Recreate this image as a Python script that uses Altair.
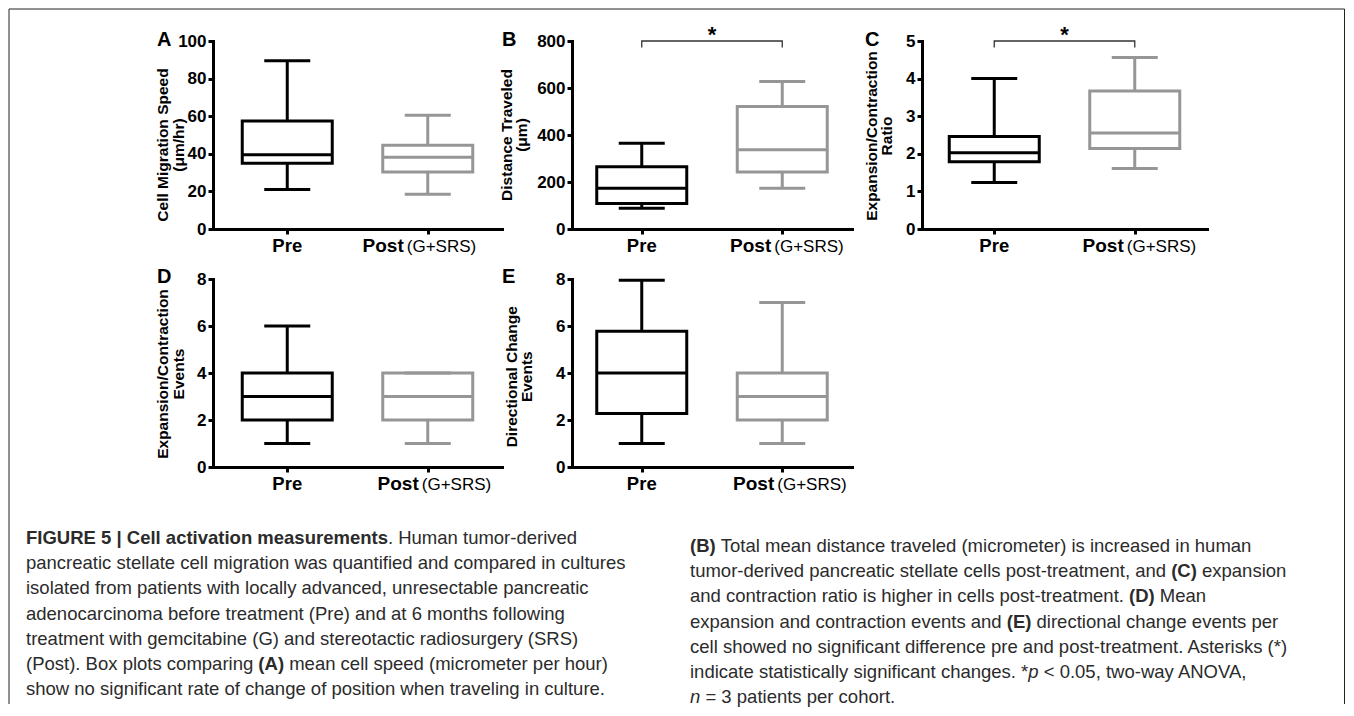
import altair as alt
import pandas as pd

# ---------------- data (min, q1, median, q3, max) ----------------
GROUPS = ["Pre", "Post"]

speed_pre = [21.0, 35.0, 39.5, 57.5, 89.5]
speed_post = [18.5, 30.3, 38.2, 44.5, 60.5]
distance_pre = [88, 109, 173, 265, 365]
distance_post = [173, 243, 337, 521, 628]
ratio_pre = [1.24, 1.79, 2.03, 2.46, 4.00]
ratio_post = [1.61, 2.14, 2.55, 3.67, 4.56]
ecevents_pre = [1, 2, 3, 4, 6]
ecevents_post = [1, 2, 3, 4, 4]
direvents_pre = [1, 2.28, 4, 5.78, 7.95]
direvents_post = [1, 2, 3, 4, 7]

PANEL_LETTERS = ["A", "B", "C", "D", "E"]
Y_TITLES = [
    ["Cell Migration Speed", "(\u03bcm/hr)"],
    ["Distance Traveled", "(\u03bcm)"],
    ["Expansion/Contraction", "Ratio"],
    ["Expansion/Contraction", "Events"],
    ["Directional Change", "Events"],
]
Y_DOMAINS = [[0, 100], [0, 800], [0, 5], [0, 8], [0, 8]]
Y_TICKS = [[0, 20, 40, 60, 80, 100], [0, 200, 400, 600, 800], [0, 1, 2, 3, 4, 5],
           [0, 2, 4, 6, 8], [0, 2, 4, 6, 8]]
SIGNIFICANT = [False, True, True, False, False]
BRACKET_LOW = [None, 772, 4.825, None, None]
X_MAIN = ["Pre", "Post"]
X_EXTRA = "(G+SRS)"

# ---------------- styling / layout ----------------
BLACK = "#000000"
GRAY = "#969696"
AX_FONT = "Liberation Sans, Arial, Helvetica, sans-serif"
CAP_FONT = "Liberation Sans, Arial, Helvetica, sans-serif"
PANEL_W = [289, 280, 285, 289, 280]
PANEL_H = 188
STEP = 140.5
LETTER_POS = [(-56, -1), (-70, -1.5), (-57, -1), (-56, -2), (-70, -2)]
# centre of the first title line (x) and of the title along the axis (y)
TITLE_POS = [(-50, 104), (-65.5, 94), (-50.3, 95), (-49.7, 95), (-60.3, 97.7)]
# right edge of "Post" relative to its tick, per panel
POST_DX = [-24, -11, -11, -9, -8]


def make_panel(i, pre, post):
    w = PANEL_W[i]
    pad = (w / STEP - 1) / 2
    xs = alt.Scale(type="point", domain=GROUPS, padding=pad)
    xa = alt.Axis(title=None, labels=False, ticks=True, domain=True)
    ys = alt.Scale(domain=Y_DOMAINS[i], nice=False, zero=False)
    ya = alt.Axis(title=None, values=Y_TICKS[i], labelOverlap=False, grid=False)

    def X(f):
        return alt.X(f, type="nominal", scale=xs, axis=xa)

    def Y(f):
        return alt.Y(f, type="quantitative", scale=ys, axis=ya)

    col = alt.Color("group:N", scale=alt.Scale(domain=GROUPS, range=[BLACK, GRAY]), legend=None)
    stk = alt.Stroke("group:N", scale=alt.Scale(domain=GROUPS, range=[BLACK, GRAY]), legend=None)

    df = pd.DataFrame({
        "group": GROUPS,
        "min": [pre[0], post[0]],
        "q1": [pre[1], post[1]],
        "median": [pre[2], post[2]],
        "q3": [pre[3], post[3]],
        "max": [pre[4], post[4]],
    })
    base = alt.Chart(df)
    layers = [
        base.mark_rule(strokeWidth=3, opacity=1).encode(x=X("group"), y=Y("min"), y2="q1", color=col),
        base.mark_rule(strokeWidth=3, opacity=1).encode(x=X("group"), y=Y("q3"), y2="max", color=col),
        base.mark_bar(size=90, fill="white", strokeWidth=3, opacity=1).encode(
            x=X("group"), y=Y("q1"), y2="q3", stroke=stk),
        base.mark_tick(thickness=3, size=90, opacity=1).encode(x=X("group"), y=Y("median"), color=col),
        base.mark_tick(thickness=3, size=46, opacity=1).encode(x=X("group"), y=Y("min"), color=col),
        base.mark_tick(thickness=3, size=46, opacity=1).encode(x=X("group"), y=Y("max"), color=col),
    ]

    if SIGNIFICANT[i]:
        top = Y_DOMAINS[i][1]
        low = BRACKET_LOW[i]
        bdf = pd.DataFrame({"g": ["Pre", "Pre", "Post", "Post"],
                            "v": [low, top, top, low], "o": [0, 1, 2, 3]})
        layers.append(alt.Chart(bdf).mark_line(strokeWidth=1.3, color="#333333", opacity=1).encode(
            x=X("g"), y=Y("v"), order="o:Q"))
        sdf = pd.DataFrame({"g": ["Pre"], "v": [top], "t": ["*"]})
        layers.append(alt.Chart(sdf).mark_text(fontSize=22, fontWeight="bold", font=AX_FONT,
                                               dx=STEP / 2, dy=1, baseline="alphabetic",
                                               align="center", color=BLACK).encode(
            x=X("g"), y=Y("v"), text="t:N"))

    # category labels
    ldf1 = pd.DataFrame({"g": [X_MAIN[0]], "t": [X_MAIN[0]]})
    ldf2 = pd.DataFrame({"g": [X_MAIN[1]], "t": [X_MAIN[1]]})
    ldf3 = pd.DataFrame({"g": [X_MAIN[1]], "t": [X_EXTRA]})
    layers.append(alt.Chart(ldf1).mark_text(font=AX_FONT, fontSize=18.5, fontWeight="bold", align="center",
                                            baseline="alphabetic", color=BLACK).encode(
        x=X("g"), y=alt.value(PANEL_H + 23), text="t:N"))
    layers.append(alt.Chart(ldf2).mark_text(font=AX_FONT, fontSize=19, fontWeight="bold", align="right",
                                            baseline="alphabetic", dx=POST_DX[i], color=BLACK).encode(
        x=X("g"), y=alt.value(PANEL_H + 23), text="t:N"))
    layers.append(alt.Chart(ldf3).mark_text(font=AX_FONT, fontSize=17, fontWeight="normal", align="left",
                                            baseline="alphabetic", dx=POST_DX[i] + 3, color=BLACK).encode(
        x=X("g"), y=alt.value(PANEL_H + 23), text="t:N"))

    # panel letter and y title
    one = pd.DataFrame({"k": [0]})
    lx, ly = LETTER_POS[i]
    layers.append(alt.Chart(one).mark_text(font=AX_FONT, fontSize=20, fontWeight="bold", align="left",
                                           baseline="middle", color=BLACK).encode(
        x=alt.value(lx), y=alt.value(ly), text=alt.value(PANEL_LETTERS[i])))
    tx, ty = TITLE_POS[i]
    layers.append(alt.Chart(one).mark_text(font=AX_FONT, fontSize=15.5, fontWeight="bold", align="center",
                                           baseline="middle", angle=270, lineHeight=15.5, color=BLACK).encode(
        x=alt.value(tx), y=alt.value(ty), text=alt.value(Y_TITLES[i])))

    return alt.layer(*layers).properties(width=w, height=PANEL_H)


panels = [
    make_panel(0, speed_pre, speed_post),
    make_panel(1, distance_pre, distance_post),
    make_panel(2, ratio_pre, ratio_post),
    make_panel(3, ecevents_pre, ecevents_post),
    make_panel(4, direvents_pre, direvents_post),
]

# ---------------- caption ----------------
CAP_SIZE = 18.5
HEAD_SIZE = 18.5
LINE_STEP = 25.2
OX, OY = 922, 279  # page position of the caption cell origin

AR = {" ": 278, "(": 333, ")": 333, "*": 389, "+": 584, ",": 278, "-": 333, ".": 278, "/": 278,
      "<": 584, "=": 584, "|": 260,
      "A": 667, "B": 667, "C": 722, "D": 722, "E": 667, "F": 611, "G": 778, "H": 722, "I": 278,
      "M": 833, "N": 722, "O": 778, "P": 667, "R": 722, "S": 667, "T": 611, "U": 722, "V": 667,
      "a": 556, "b": 556, "c": 500, "d": 556, "e": 556, "f": 278, "g": 556, "h": 556, "i": 222,
      "j": 222, "k": 500, "l": 222, "m": 833, "n": 556, "o": 556, "p": 556, "q": 556, "r": 333,
      "s": 500, "t": 278, "u": 556, "v": 500, "w": 722, "x": 500, "y": 500, "z": 500}
AB = {" ": 278, "(": 333, ")": 333, "*": 389, ".": 278, "|": 280, "5": 556,
      "A": 722, "B": 722, "C": 722, "D": 722, "E": 667, "F": 611, "G": 778, "I": 278, "R": 722,
      "U": 722, "a": 556, "c": 556, "e": 556, "i": 278, "l": 278, "m": 889, "n": 611, "o": 611,
      "r": 389, "s": 556, "t": 333, "u": 611, "v": 556}
SIZES = {"r": CAP_SIZE, "b": CAP_SIZE, "i": CAP_SIZE, "h": HEAD_SIZE}


def tw(s, style):
    tab = AB if style in ("b", "h") else AR
    return sum(tab.get(c, 556) for c in s) / 1000.0 * SIZES[style]


LEFT_LINES = [
    [("FIGURE 5 | Cell activation measurements", "h"), (". Human tumor-derived", "r")],
    [("pancreatic stellate cell migration was quantified and compared in cultures", "r")],
    [("isolated from patients with locally advanced, unresectable pancreatic", "r")],
    [("adenocarcinoma before treatment (Pre) and at 6 months following", "r")],
    [("treatment with gemcitabine (G) and stereotactic radiosurgery (SRS)", "r")],
    [("(Post). Box plots comparing ", "r"), ("(A)", "b"), (" mean cell speed (micrometer per hour)", "r")],
    [("show no significant rate of change of position when traveling in culture.", "r")],
]
RIGHT_LINES = [
    [("(B)", "b"), (" Total mean distance traveled (micrometer) is increased in human", "r")],
    [("tumor-derived pancreatic stellate cells post-treatment, and ", "r"), ("(C)", "b"), (" expansion", "r")],
    [("and contraction ratio is higher in cells post-treatment. ", "r"), ("(D)", "b"), (" Mean", "r")],
    [("expansion and contraction events and ", "r"), ("(E)", "b"), (" directional change events per", "r")],
    [("cell showed no significant difference pre and post-treatment. Asterisks (*)", "r")],
    [("indicate statistically significant changes. *", "r"), ("p", "i"),
     (" < 0.05, two-way ANOVA,", "r")],
    [("n", "i"), (" = 3 patients per cohort.", "r")],
]

rows = []


def add_lines(lines, x0, y0):
    for k, segs in enumerate(lines):
        cur = x0
        y = y0 + k * LINE_STEP
        for text, st in segs:
            lead = len(text) - len(text.lstrip(" "))
            rows.append({"t": text.strip(" "), "x": cur + tw(" " * lead, st) - OX, "y": y - OY, "s": st})
            cur += tw(text, st)


add_lines(LEFT_LINES, 26, 538)
add_lines(RIGHT_LINES, 690, 546)
cap_df = pd.DataFrame(rows)


def cap_layer(style, size, **kw):
    return alt.Chart(cap_df).transform_filter(alt.datum.s == style).mark_text(
        font=CAP_FONT, fontSize=size, align="left", baseline="middle", color="#2b2b2b", **kw
    ).encode(x=alt.X("x:Q", scale=None), y=alt.Y("y:Q", scale=None), text="t:N")


# figure frame (kept inside a 1338 x 700 canvas so the page never scrolls)
FR_L, FR_T, FR_R, FR_B = 9, 9, 1344.5, 704
frame_df = pd.DataFrame({
    "x": [FR_L - OX, FR_L - OX, FR_R - OX],
    "x2": [FR_R - OX, FR_L - OX, FR_R - OX],
    "y": [FR_T - OY, FR_T - OY, FR_T - OY],
    "y2": [FR_T - OY, FR_B - OY, FR_B - OY],
})
frame = alt.Chart(frame_df).mark_rule(color="#222222", strokeWidth=1).encode(
    x=alt.X("x:Q", scale=None), x2="x2", y=alt.Y("y:Q", scale=None), y2="y2")

caption = alt.layer(
    frame,
    cap_layer("r", CAP_SIZE),
    cap_layer("h", HEAD_SIZE, fontWeight="bold"),
    cap_layer("b", CAP_SIZE, fontWeight="bold"),
    cap_layer("i", CAP_SIZE, fontStyle="italic"),
).properties(width=285, height=PANEL_H)

chart = alt.concat(
    *panels, caption, columns=3, spacing={"row": 50, "column": 70}, align="each", bounds="flush"
).resolve_scale(
    x="independent", y="independent", color="independent", stroke="independent"
).properties(
    padding=0, background="white"
).configure_view(
    stroke=None
).configure_axis(
    domainColor=BLACK, domainWidth=3, domainCap="square", tickColor=BLACK, tickWidth=3, tickSize=5,
    labelColor=BLACK, labelFont=AX_FONT, labelFontSize=17, labelFontWeight="bold", labelPadding=2,
    grid=False,
)

chart.save("out.html", embed_options={"renderer": "svg", "actions": False})
